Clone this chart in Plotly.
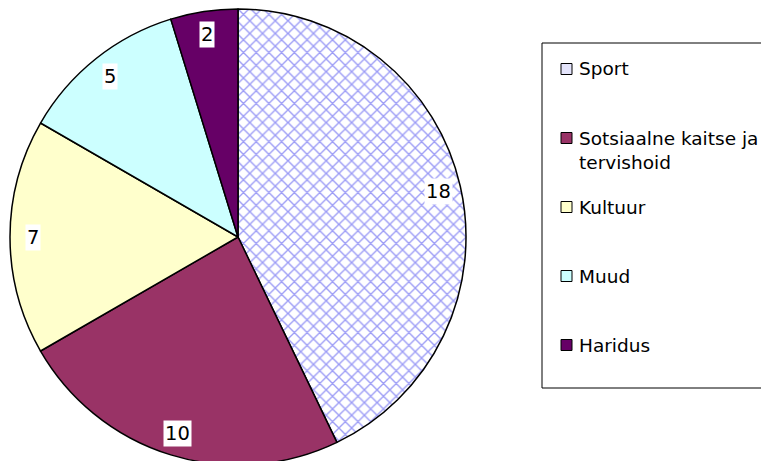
import math
import plotly.graph_objects as go

# Données du graphique
labels = ["Sport", "Sotsiaalne kaitse ja tervishoid", "Kultuur", "Muud", "Haridus"]
values = [18, 10, 7, 5, 2]
colors = ["#ffffff", "#993366", "#ffffcc", "#ccffff", "#660066"]

W, H = 769, 461
OFF = 8  # marge par défaut de la page html
cx, cy, R = 238, 237, 228  # centre et rayon du camembert (pixels écran)
FONT = "DejaVu Sans"
LEG_SIZE = 18.5


def fx(x):
    return (x - OFF) / W


def fy(y):
    return 1 - (y - OFF) / H


pie = go.Pie(
    labels=labels,
    values=values,
    sort=False,
    direction="clockwise",
    rotation=0,
    textinfo="none",
    showlegend=False,
    domain=dict(x=[fx(cx - R), fx(cx + R)], y=[fy(cy + R), fy(cy - R)]),
    marker=dict(
        colors=colors,
        line=dict(color="black", width=1.5),
        pattern=dict(shape=["x", "", "", "", ""], fgcolor="#9c9cf6",
                     size=9, solidity=0.28),
    ),
)

fig = go.Figure(data=[pie])

# Étiquettes des valeurs (fond blanc) placées au milieu de chaque part
annotations = []
total = sum(values)
cum = 0
for v in values:
    mid = (cum + v / 2) / total * 2 * math.pi
    cum += v
    rl = 0.9 * R
    annotations.append(dict(
        x=fx(cx + rl * math.sin(mid)), y=fy(cy - rl * math.cos(mid)),
        xref="paper", yref="paper", xanchor="center", yanchor="middle",
        text=str(v), showarrow=False,
        font=dict(family=FONT, size=19.5, color="black"),
        bgcolor="white", borderpad=1,
    ))

# Légende dessinée à la main
shapes = [dict(type="rect", xref="paper", yref="paper",
               x0=fx(542), x1=fx(800), y0=fy(43), y1=fy(388),
               line=dict(color="black", width=1), fillcolor="rgba(0,0,0,0)")]
for i, (lab, col) in enumerate(zip(labels, colors)):
    yc = 69 + 69 * i
    shapes.append(dict(type="rect", xref="paper", yref="paper",
                       x0=fx(561), x1=fx(572), y0=fy(yc - 5.5), y1=fy(yc + 5.5),
                       fillcolor=col if i else "#e4e4fb",
                       line=dict(color="black", width=1)))
    text = lab.replace(" ja ", " ja<br>")
    n = text.count("<br>") + 1
    annotations.append(dict(
        x=fx(577), y=fy(yc + (n - 1) * 1.3 * LEG_SIZE / 2),
        xref="paper", yref="paper", xanchor="left", yanchor="middle",
        align="left", text=text, showarrow=False,
        font=dict(family=FONT, size=LEG_SIZE, color="black"),
    ))

fig.update_layout(
    width=W, height=H,
    margin=dict(l=0, r=0, t=0, b=0),
    paper_bgcolor="white",
    plot_bgcolor="white",
    annotations=annotations,
    shapes=shapes,
)

fig.write_html("out.html")
